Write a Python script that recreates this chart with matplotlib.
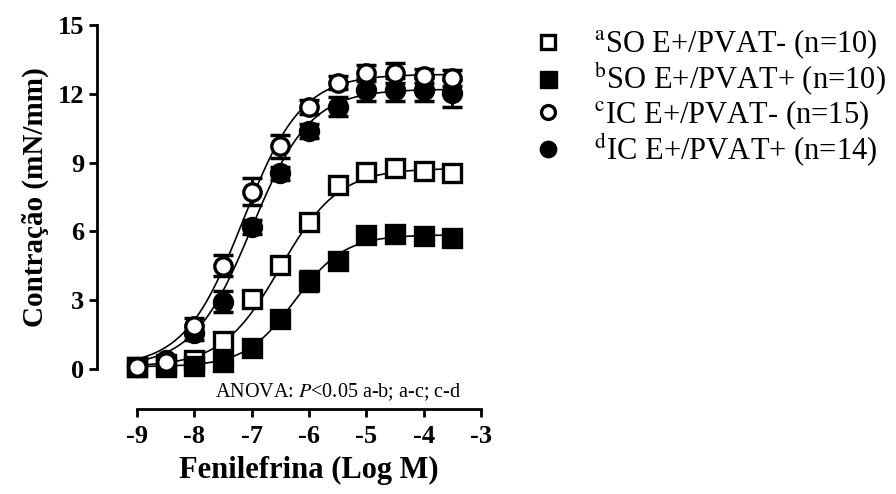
import numpy as np
import matplotlib
matplotlib.use("Agg")
import matplotlib.pyplot as plt

plt.rcParams['font.family'] = ['Liberation Serif', 'DejaVu Serif']
plt.rcParams['mathtext.fontset'] = 'stix'
plt.rcParams['axes.unicode_minus'] = False

# --- data ---
log_conc = [-9, -8.5, -8, -7.5, -7, -6.5, -6, -5.5, -5, -4.5, -4, -3.5]

so_pvat_neg = [0.1, 0.2, 0.4, 1.23, 3.05, 4.54, 6.4, 8.02, 8.6, 8.75, 8.63, 8.56]
so_pvat_neg_sem = [0.05, 0.05, 0.1, 0.2, 0.3, 0.3, 0.35, 0.3, 0.3, 0.3, 0.3, 0.3]

so_pvat_pos = [0.1, 0.1, 0.15, 0.3, 0.92, 2.18, 3.84, 4.72, 5.84, 5.9, 5.8, 5.73]
so_pvat_pos_sem = [0.05, 0.05, 0.05, 0.1, 0.15, 0.25, 0.45, 0.3, 0.3, 0.3, 0.3, 0.3]

ic_pvat_neg = [0.1, 0.3, 1.87, 4.5, 7.73, 9.72, 11.44, 12.49, 12.92, 12.9, 12.78, 12.68]
ic_pvat_neg_sem = [0.05, 0.1, 0.35, 0.45, 0.6, 0.5, 0.3, 0.3, 0.35, 0.45, 0.3, 0.35]

ic_pvat_pos = [0.1, 0.39, 1.57, 2.94, 6.2, 8.53, 10.39, 11.44, 12.17, 12.17, 12.17, 12.02]
ic_pvat_pos_sem = [0.05, 0.1, 0.3, 0.45, 0.3, 0.3, 0.3, 0.42, 0.5, 0.5, 0.5, 0.6]

# sigmoidal fit parameters (bottom, top, logEC50, hill slope)
fit_a = (0.1, 8.75, -6.5, 0.85)
fit_b = (0.1, 5.85, -6.25, 1.0)
fit_c = (0.1, 12.85, -7.15, 0.85)
fit_d = (0.1, 12.2, -7.0, 0.85)

labels = [r'$^{\mathrm{a}}$SO E+/PVAT- (n=10)',
          r'$^{\mathrm{b}}$SO E+/PVAT+ (n=10)',
          r'$^{\mathrm{c}}$IC E+/PVAT- (n=15)',
          r'$^{\mathrm{d}}$IC E+/PVAT+ (n=14)']


def hill(x, p):
    bottom, top, ec50, h = p
    return bottom + (top - bottom) / (1 + 10 ** ((ec50 - x) * h))


fig = plt.figure(figsize=(8.96, 4.94), dpi=100)
ax = fig.add_axes([0.1529, 0.253, 0.3839, 0.6964])

xs = np.linspace(-9, -3.5, 300)

series = [
    (so_pvat_neg, so_pvat_neg_sem, fit_a, 's', 'white', 13, labels[0]),
    (so_pvat_pos, so_pvat_pos_sem, fit_b, 's', 'black', 13.5, labels[1]),
    (ic_pvat_pos, ic_pvat_pos_sem, fit_d, 'o', 'black', 13, labels[3]),
    (ic_pvat_neg, ic_pvat_neg_sem, fit_c, 'o', 'white', 12.5, labels[2]),
]

handles = {}
for y, err, fit, mk, face, ms, lab in series:
    ax.plot(xs, hill(xs, fit), color='black', lw=1.2, zorder=2)
    ax.errorbar(log_conc, y, yerr=err, fmt='none', ecolor='black',
                elinewidth=2, capsize=7, capthick=2.5, zorder=3, clip_on=False)
    h, = ax.plot(log_conc, y, linestyle='none', marker=mk, markersize=ms,
                 markerfacecolor=face, markeredgecolor='black', markeredgewidth=2.4,
                 zorder=4, clip_on=False)
    handles[lab] = h

ax.set_xlim(-9, -3)
ax.set_ylim(0, 15)
ax.set_xticks(range(-9, -2))
ax.set_yticks(range(0, 16, 3))

for side in ['top', 'right']:
    ax.spines[side].set_visible(False)
for side in ['left', 'bottom']:
    ax.spines[side].set_position(('outward', 29))
    ax.spines[side].set_linewidth(2)
ax.tick_params(width=2, length=6, labelsize=19)
ax.tick_params(axis='x', pad=5)
ax.tick_params(axis='y', pad=3)
for t in ax.get_xticklabels() + ax.get_yticklabels():
    t.set_fontweight('bold')

ax.set_xlabel('Fenilefrina (Log M)', fontsize=22, fontweight='bold', labelpad=6)
ax.set_ylabel('Contração (mN/mm)', fontsize=21, fontweight='bold', labelpad=6)

ax.text(-5.49, -1.0, r'ANOVA: $P$<0.05 a-b; a-c; c-d', fontsize=14.5,
        ha='center', va='center')

leg = fig.legend([handles[l] for l in labels], labels, loc='upper left',
                 bbox_to_anchor=(0.567, 1.0), frameon=False, fontsize=22,
                 handlelength=0.8, handletextpad=1.1, labelspacing=0.0,
                 markerscale=0.8)

fig.savefig('out.png', dpi=100)
